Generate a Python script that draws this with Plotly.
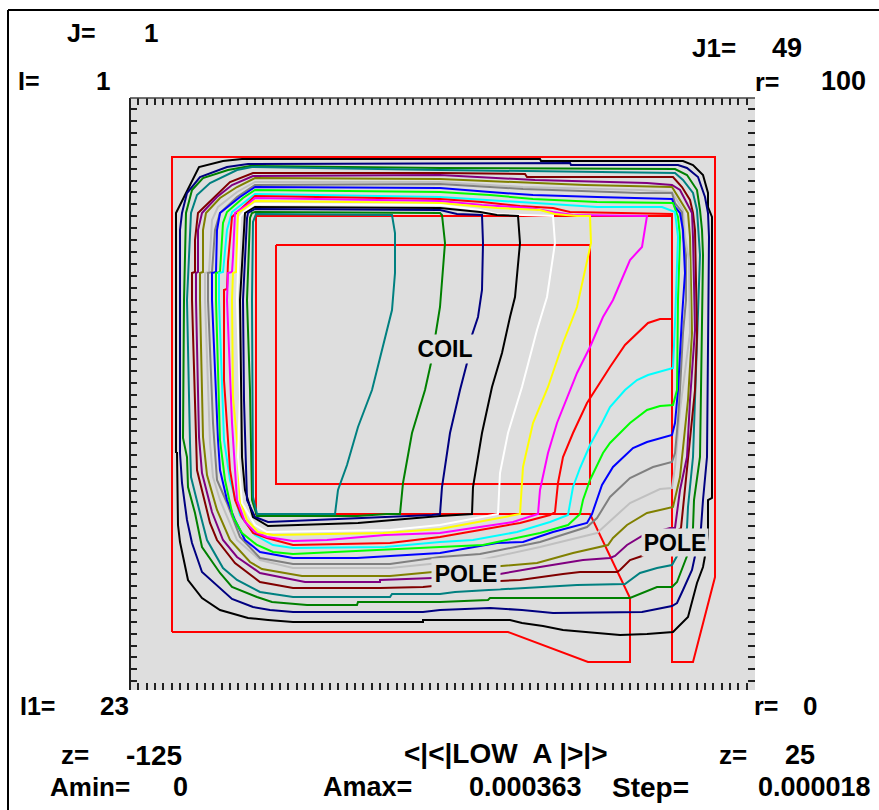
import plotly.graph_objects as go

Z_MIN, Z_MAX = -125, 25
R_MIN, R_MAX = 0, 100
U_SPAN, V_SPAN = 625.0, 592.0  # read-off units across each axis

# Contour levels, (axial, radial) in read-off units, outermost first
LEVEL_01 = [(46,237),(46,477),(69,523),(93,529),(112,531),(410,531),(411,529),(553,529),(563,525),(573,515),(578,497),(578,483),(582,473),(582,192),(578,190),(578,155),(575,134),(573,123),(567,107),(558,73),(543,58),(517,56),(490,55),(457,58),(433,60),(413,64),(392,67),(380,70),(293,70),(293,68),(163,68),(138,70),(118,72),(90,80),(72,92),(58,110),(50,148),(48,165),(47,237),(46,237)]
LEVEL_02 = [(50,237),(50,460),(52,477),(57,497),(70,513),(97,523),(118,526),(440,527),(441,525),(548,525),(557,522),(568,513),(575,493),(578,477),(579,453),(577,233),(573,190),(571,162),(565,134),(562,120),(553,100),(547,87),(542,84),(512,78),(423,77),(392,80),(360,82),(310,80),(293,78),(163,78),(140,80),(123,83),(102,91),(90,102),(72,118),(62,147),(57,170),(52,207),(50,237)]
LEVEL_03 = [(54,390),(56,477),(62,500),(73,512),(98,520),(120,524),(310,522),(460,521),(545,521),(557,515),(567,500),(570,480),(572,460),(573,435),(570,233),(564,190),(563,162),(557,134),(553,123),(547,108),(542,103),(527,103),(500,92),(360,92),(358,90),(310,88),(228,88),(227,85),(177,85),(142,88),(127,93),(102,103),(90,117),(72,143),(65,177),(58,203),(57,233),(53,252),(54,390)]
LEVEL_04 = [(57,390),(61,477),(67,495),(80,507),(107,520),(122,523),(310,520),(460,518),(545,517),(553,510),(563,497),(567,480),(568,460),(570,435),(563,233),(558,183),(557,162),(547,134),(542,125),(527,122),(510,117),(495,106),(447,105),(390,102),(360,100),(325,98),(310,96),(262,96),(260,93),(163,93),(130,98),(107,110),(93,122),(77,150),(70,177),(61,213),(60,247),(57,390)]
LEVEL_05 = [(62,390),(62,417),(65,418),(65,450),(68,477),(83,492),(100,508),(123,517),(310,517),(395,516),(397,513),(543,513),(552,503),(560,490),(563,477),(565,460),(567,357),(565,300),(560,250),(555,203),(551,162),(512,134),(500,130),(490,120),(487,118),(450,118),(433,116),(390,110),(370,109),(303,104),(293,103),(250,102),(163,102),(130,108),(105,127),(87,150),(80,167),(67,220),(66,250),(62,390)]
LEVEL_06 = [(66,390),(66,417),(68,418),(68,460),(72,477),(87,493),(102,505),(123,514),(310,515),(360,512),(405,510),(517,507),(542,505),(550,500),(557,487),(562,477),(563,453),(565,360),(560,290),(557,233),(550,200),(545,162),(540,162),(512,154),(497,145),(485,134),(480,132),(453,130),(410,123),(370,116),(303,112),(250,110),(250,108),(175,108),(130,117),(107,133),(93,150),(82,178),(72,217),(69,253),(66,390)]
LEVEL_07 = [(70,390),(70,417),(73,418),(73,460),(76,477),(90,492),(107,503),(125,512),(310,511),(360,509),(405,507),(455,505),(542,503),(548,493),(555,482),(558,477),(560,453),(562,357),(558,290),(553,240),(550,213),(543,183),(517,177),(497,165),(483,152),(478,145),(443,137),(407,127),(370,124),(303,118),(260,114),(172,114),(132,121),(120,128),(100,150),(87,180),(77,215),(73,253),(70,390)]
LEVEL_08 = [(75,390),(75,417),(79,418),(82,470),(88,483),(107,498),(125,508),(310,508),(393,503),(510,500),(542,498),(547,490),(553,480),(555,453),(559,430),(560,357),(550,280),(545,223),(542,202),(530,201),(500,187),(467,157),(410,143),(350,130),(310,127),(260,122),(163,122),(130,130),(107,150),(90,190),(83,213),(80,247),(75,390)]
LEVEL_09 = [(78,390),(78,417),(82,418),(85,460),(90,477),(107,493),(125,505),(310,506),(360,503),(393,501),(510,497),(542,497),(545,487),(552,478),(553,453),(556,435),(556,390),(553,357),(550,300),(548,270),(545,237),(542,228),(523,223),(500,212),(480,193),(467,172),(457,163),(410,148),(350,136),(310,133),(260,126),(163,126),(130,132),(110,153),(97,187),(87,210),(83,267),(78,390)]
LEVEL_10 = [(82,390),(82,417),(86,418),(87,460),(90,477),(110,493),(125,503),(310,502),(360,498),(403,495),(467,493),(542,491),(545,483),(550,477),(553,460),(555,417),(552,373),(550,340),(548,300),(545,267),(542,255),(517,248),(503,242),(483,223),(472,205),(462,176),(457,167),(423,158),(393,148),(367,147),(310,137),(227,132),(163,132),(130,138),(115,150),(105,170),(97,190),(90,220),(88,250),(82,390)]
LEVEL_11 = [(86,390),(86,417),(90,418),(93,467),(97,478),(113,492),(125,500),(310,498),(360,495),(403,491),(467,488),(543,487),(548,473),(550,453),(548,390),(547,300),(543,285),(530,284),(517,280),(500,267),(480,247),(473,237),(460,210),(453,190),(450,176),(438,165),(410,157),(353,145),(310,143),(227,139),(163,136),(143,138),(127,145),(112,157),(103,173),(95,210),(90,250),(86,390)]
LEVEL_12 = [(89,390),(89,417),(93,418),(97,460),(102,478),(115,488),(125,496),(310,493),(360,490),(400,487),(467,483),(532,483),(545,478),(548,453),(547,415),(545,367),(543,322),(518,315),(507,310),(495,300),(480,283),(472,267),(460,245),(450,222),(443,203),(438,175),(420,168),(387,158),(343,150),(310,148),(255,143),(163,142),(143,145),(125,155),(110,175),(100,210),(94,250),(89,390)]
LEVEL_13 = [(94,390),(94,400),(97,401),(98,428),(102,473),(118,488),(125,494),(310,491),(352,488),(390,484),(423,482),(440,478),(490,477),(542,476),(542,371),(530,371),(518,367),(503,353),(495,345),(480,323),(467,302),(457,287),(443,257),(433,233),(428,207),(425,178),(420,175),(390,167),(350,160),(310,153),(260,147),(163,145),(137,152),(123,157),(112,173),(105,190),(100,220),(97,267),(94,310),(94,390)]
LEVEL_14 = [(97,390),(98,417),(102,418),(103,433),(105,477),(117,485),(125,492),(310,489),(352,485),(400,482),(423,478),(443,475),(517,474),(512,443),(500,430),(483,390),(473,373),(460,343),(447,317),(440,300),(427,267),(418,237),(410,200),(408,176),(383,168),(343,162),(310,157),(255,155),(197,150),(163,149),(137,153),(125,158),(115,168),(107,190),(105,220),(102,267),(97,390)]
LEVEL_15 = [(102,390),(103,417),(106,418),(107,450),(108,477),(125,489),(310,487),(367,482),(410,480),(425,476),(447,474),(460,474),(461,447),(447,383),(433,347),(418,303),(403,267),(393,223),(390,176),(348,168),(310,161),(253,157),(143,155),(128,158),(117,170),(110,190),(107,250),(103,293),(102,390)]
LEVEL_16 = [(107,390),(110,473),(114,478),(125,486),(310,485),(350,480),(367,476),(423,474),(425,447),(417,393),(407,360),(392,303),(378,257),(370,217),(368,176),(310,165),(260,160),(137,158),(125,165),(112,187),(108,233),(110,293),(107,390)]
LEVEL_17 = [(110,390),(114,467),(115,477),(125,483),(310,482),(350,478),(367,475),(388,474),(390,447),(385,393),(380,373),(372,337),(362,303),(352,257),(343,203),(342,176),(310,174),(228,167),(138,164),(123,173),(115,200),(112,233),(110,390)]
LEVEL_18 = [(113,390),(117,472),(118,477),(125,481),(310,480),(327,476),(352,475),(353,447),(352,400),(348,373),(342,355),(337,327),(330,300),(320,257),(312,203),(310,176),(302,175),(228,172),(138,168),(125,173),(117,190),(114,290),(113,390)]
LEVEL_19 = [(117,390),(120,472),(122,477),(125,478),(310,477),(312,475),(315,447),(313,417),(310,383),(301,327),(295,300),(282,257),(273,207),(270,176),(257,176),(227,174),(127,174),(122,190),(120,300),(117,390)]
LEVEL_20 = [(122,390),(123,468),(126,476),(262,475),(265,457),(265,417),(262,380),(253,343),(242,300),(228,263),(217,225),(208,200),(205,176),(127,176),(123,193),(122,390)]

LEVELS = [LEVEL_01, LEVEL_02, LEVEL_03, LEVEL_04, LEVEL_05, LEVEL_06, LEVEL_07, LEVEL_08, LEVEL_09, LEVEL_10,
          LEVEL_11, LEVEL_12, LEVEL_13, LEVEL_14, LEVEL_15, LEVEL_16, LEVEL_17, LEVEL_18, LEVEL_19, LEVEL_20]
LEVEL_COLORS = ["#000000", "#000080", "#008000", "#008080", "#800000", "#800080", "#808000", "#C0C0C0", "#808080", "#0000FF",
                "#00FF00", "#00FFFF", "#FF0000", "#FF00FF", "#FFFF00", "#FFFFFF", "#000000", "#000080", "#008000", "#008080"]

# Region outlines (red), same units
OUTLINE_POLE = [(42,58),(42,533),(585,533),(585,113),(563,28),(542,28),(542,474),(126,474),(126,176),(460,176),(500,92),(500,28),(458,28),(378,58),(42,58)]
OUTLINE_COIL = [(146,445),(460,445),(460,206),(146,206),(146,445)]

Z_TICKS = list(range(-123, 24, 2))
R_TICK_FIRST, R_TICK_STEP, R_TICK_COUNT = 1.47, 2.014, 49
R_TICKS = [R_TICK_FIRST + i * R_TICK_STEP for i in range(R_TICK_COUNT)]

# Readouts: text, centre x, centre y (page pixels), font size
READOUTS = [
    ("J=", 81, 33, 25), ("1", 151, 33, 26), ("I=", 29, 81, 25), ("1", 103, 81, 26),
    ("J1=", 714, 48, 26), ("49", 787, 48, 27), ("r=", 767, 82, 25), ("100", 843, 81, 27),
    ("I1=", 37, 706, 25), ("23", 114, 706, 26), ("r=", 766, 706, 25), ("0", 810, 706, 26),
    ("z=", 75, 755, 26), ("-125", 154, 755, 28), ("<|<|LOW  A |>|>", 506, 753, 28),
    ("z=", 733, 755, 26), ("25", 800, 755, 27),
    ("Amin=", 90, 787, 26), ("0", 180, 787, 27), ("Amax=", 367, 787, 27),
    ("0.000363", 525, 787, 27), ("Step=", 650, 787, 28), ("0.000018", 814, 787, 27),
]
# Region labels: text, centre x, centre y, mask width, mask height (page pixels)
REGION_LABELS = [("COIL", 445, 349, 60, 28), ("POLE", 466, 573, 68, 29), ("POLE", 675, 542, 66, 27)]

L, T, W, H = 130, 98, 625, 592
FONT = "Liberation Sans"
BG = "#DEDEDE"


def to_z(u):
    return Z_MIN + u * (Z_MAX - Z_MIN) / U_SPAN


def to_r(v):
    return R_MIN + v * (R_MAX - R_MIN) / V_SPAN


def px(x):
    return (x - L) / W


def py(y):
    return (T + H - y) / H


fig = go.Figure()
for outline in (OUTLINE_POLE, OUTLINE_COIL):
    fig.add_trace(go.Scatter(x=[to_z(p[0]) for p in outline], y=[to_r(p[1]) for p in outline], mode="lines",
                             line=dict(color="#FF0000", width=2), hoverinfo="skip", showlegend=False))
for pts, color in zip(LEVELS, LEVEL_COLORS):
    fig.add_trace(go.Scatter(x=[to_z(p[0]) for p in pts], y=[to_r(p[1]) for p in pts], mode="lines",
                             line=dict(color=color, width=2), hoverinfo="skip", showlegend=False))

annotations = []
for text, x, y, size in READOUTS:
    annotations.append(dict(text="<b>%s</b>" % text.replace("<", "&lt;").replace(">", "&gt;"), xref="paper", yref="paper",
                            x=px(x), y=py(y), xanchor="center", yanchor="middle",
                            showarrow=False, font=dict(family=FONT, size=size, color="#000000")))
for text, x, y, w, h in REGION_LABELS:
    annotations.append(dict(text="<b>%s</b>" % text, xref="paper", yref="paper", x=px(x), y=py(y), xanchor="center",
                            yanchor="middle", width=w, height=h, bgcolor=BG, borderpad=0, showarrow=False,
                            font=dict(family=FONT, size=23, color="#000000")))

frame = dict(type="line", xref="paper", yref="paper", line=dict(color="#000000", width=2))
axis_line = dict(type="line", xref="paper", yref="paper", line=dict(color="#202020", width=2))
shapes = [
    dict(frame, x0=px(8), x1=px(879), y0=py(10), y1=py(10)),
    dict(frame, x0=px(8), x1=px(8), y0=py(10), y1=py(810)),
    dict(axis_line, x0=0, x1=0, y0=0, y1=1),
    dict(axis_line, x0=0, x1=1, y0=1, y1=1, line=dict(color="#404040", width=1.5)),
]

fig.update_layout(
    width=879, height=810, autosize=False,
    margin=dict(l=L, r=879 - L - W, t=T, b=810 - T - H, pad=0),
    paper_bgcolor="#FFFFFF", plot_bgcolor=BG, showlegend=False,
    annotations=annotations, shapes=shapes,
    xaxis=dict(range=[Z_MIN, Z_MAX], tickmode="array", tickvals=Z_TICKS, ticktext=[""] * len(Z_TICKS),
               ticks="inside", ticklen=7, tickwidth=2, tickcolor="#202020", mirror="ticks",
               showgrid=False, zeroline=False, showline=False, fixedrange=True),
    yaxis=dict(range=[R_MIN, R_MAX], tickmode="array", tickvals=R_TICKS, ticktext=[""] * len(R_TICKS),
               ticks="inside", ticklen=7, tickwidth=2, tickcolor="#202020", mirror="ticks",
               showgrid=False, zeroline=False, showline=False, fixedrange=True),
)

fig.write_html("out.html", config={"displayModeBar": False},
               post_script="document.body.style.margin='0';document.body.style.overflow='hidden';")
